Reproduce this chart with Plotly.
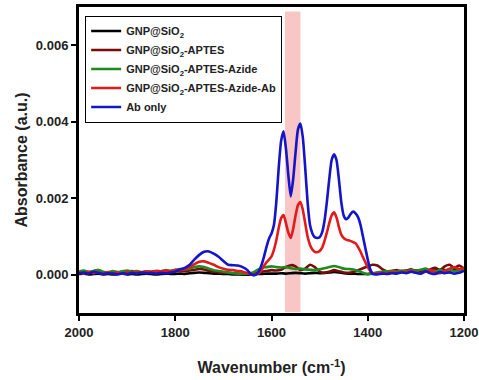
import plotly.graph_objects as go

# ---- data ----
# fine grid (used for Ab-containing spectra)
wn_fine = list(range(2000, 1659, -10)) + list(range(1650, 1389, -5)) + list(range(1380, 1199, -10))
# coarse grid (baseline spectra)
wn_coarse = list(range(2000, 1199, -10))

ab_only = [
    0.00004, 0.00006, 0.00003, 0.00008, 0.00005, 0.00002, 0.00004, 0.00003, 0.00001, 0.00004,
    0.00002, 0.00005, 0.00003, 0.00006, 0.00004, 0.00005, 0.00003, 0.00005, 0.00004, 0.00006,
    0.00008, 0.00014, 0.00018, 0.00026, 0.0004, 0.00052, 0.0006, 0.00061, 0.00055, 0.00047,
    0.00036, 0.00026, 0.00025, 0.00024, 0.0002,
    0.00012, 0.00004, 0.0, -0.00001, 0.00003, 0.00012, 0.00028, 0.0005, 0.00075, 0.00095,
    0.00108, 0.0013, 0.0019, 0.0028, 0.0035, 0.00375, 0.0033, 0.0026, 0.00205, 0.0025,
    0.0032, 0.0038, 0.00395, 0.0036, 0.0028, 0.0019, 0.0013, 0.00108, 0.00098, 0.00096,
    0.00098, 0.0011, 0.0014, 0.0019, 0.0025, 0.0030, 0.00315, 0.0030, 0.0025, 0.0019,
    0.00155, 0.00145, 0.0015, 0.0016, 0.00165, 0.0016, 0.0015, 0.0013, 0.001, 0.0007,
    0.0004, 0.00015, 0.00002,
    0.00001, 0.00003, 0.00002, 0.00004, 0.00003, 0.00006, 0.00004, 0.00008, 0.00005, 0.00003,
    0.00009, 0.00004, 0.00002, 0.00007, 0.00004, 0.00006, 0.00003, 0.00005, 0.0001,
]

aptes_azide_ab = [
    0.00006, 0.00003, 0.00008, 0.00004, 0.00006, 0.00003, 0.00007, 0.00004, 0.00006, 0.00003,
    0.00007, 0.00005, 0.00008, 0.00006, 0.00009, 0.00008, 0.0001, 0.00009, 0.00011, 0.0001,
    0.00012, 0.00012, 0.00015, 0.0002, 0.00028, 0.00034, 0.00035, 0.00031, 0.00026, 0.0002,
    0.00016, 0.00013, 0.00012, 0.0001, 0.00008,
    0.00004, 0.00002, 0.0, 0.0, 0.00002, 0.00006, 0.00014, 0.00024, 0.00033, 0.0004,
    0.00048, 0.00065, 0.0009, 0.00122, 0.00148, 0.00156, 0.00135, 0.0011, 0.00096, 0.0012,
    0.00155, 0.00182, 0.0019, 0.0017, 0.00135, 0.001, 0.00078, 0.00066, 0.0006, 0.00059,
    0.00062, 0.0007, 0.00088, 0.0011, 0.00135, 0.00155, 0.00163, 0.0015, 0.00125, 0.00105,
    0.00096, 0.00092, 0.0009, 0.00088, 0.00085, 0.00082, 0.00072, 0.0006, 0.00046, 0.00033,
    0.0002, 0.0001, 0.00005,
    0.00003, 0.00005, 0.00004, 0.00007, 0.00005, 0.00008, 0.00006, 0.0001, 0.00006, 0.00004,
    0.00008, 0.00012, 0.00006, 0.00004, 0.0001, 0.00016, 0.0002, 0.00015, 0.00018,
]

aptes_azide = [
    0.00008, 0.00011, 0.00007, 0.0001, 0.00012, 0.00008, 0.00006, 0.0001, 0.00007, 0.00009,
    0.00011, 0.00008, 0.0001, 0.00007, 0.00009, 0.00008, 0.0001, 0.00009, 0.00012, 0.0001,
    0.00013, 0.00015, 0.00014, 0.00016, 0.0002, 0.00022, 0.0002, 0.00016, 0.00012, 0.0001,
    0.00008, 0.00006, 0.00004, 0.00003, 0.00002, 0.00003, 0.00005, 0.00012, 0.00018, 0.0002,
    0.00022, 0.0002, 0.00019, 0.0002, 0.00017, 0.00015, 0.00016, 0.00014, 0.00013, 0.00012,
    0.00014, 0.00017, 0.0002, 0.00023, 0.0002, 0.00016, 0.00015, 0.00014, 0.0001, 0.00005,
    0.00001, 0.00003, 0.00006, 0.00008, 0.00009, 0.0001, 0.00008, 0.00011, 0.00009, 0.00012,
    0.0001, 0.00013, 0.00016, 0.00011, 0.00009, 0.00012, 0.0001, 0.00013, 0.0001, 0.00012,
    0.00014,
]

aptes = [
    0.00005, 0.00008, 0.00004, 0.00009, 0.00012, 0.00006, 0.00004, 0.00007, 0.00005, 0.00008,
    0.00006, 0.0001, 0.00007, 0.00005, 0.00008, 0.00006, 0.00009, 0.00007, 0.0001, 0.00008,
    0.0001, 0.0001, 0.00009, 0.00011, 0.00013, 0.00015, 0.00014, 0.0001, 0.00008, 0.00006,
    0.00005, 0.00006, 0.00004, 0.00003, 0.00002, 0.00002, 0.00003, 0.00005, 0.00008, 0.0001,
    0.00012, 0.00011, 0.00013, 0.0002, 0.00025, 0.00022, 0.00012, 0.00016, 0.00026, 0.0002,
    0.00008, 0.00005, 0.00008, 0.00012, 0.00009, 0.00006, 0.00005, 0.00007, 0.00012, 0.00017,
    0.00022, 0.00026, 0.00024, 0.00015, 0.00009, 0.0001, 0.00012, 0.00009, 0.00011, 0.00014,
    0.0001, 0.00012, 0.00009, 0.00014, 0.00018, 0.00012, 0.00022, 0.00026, 0.00018, 0.00024,
    0.00016,
]

gnp_sio2 = [
    0.00002, 0.00003, 0.00001, 0.00002, 0.00003, 0.00001, 0.00002, 0.00001, 0.00002, 0.00003,
    0.00001, 0.00002, 0.00001, 0.00002, 0.00003, 0.00002, 0.00001, 0.00002, 0.00003, 0.00002,
    0.00002, 0.00003, 0.00002, 0.00004, 0.00005, 0.00006, 0.00005, 0.00004, 0.00003, 0.00003,
    0.00002, 0.00002, 0.00001, 0.00001, 0.0, 0.0, 0.00001, 0.00002, 0.00002, 0.00003,
    0.00003, 0.00003, 0.00004, 0.00003, 0.00004, 0.00005, 0.00004, 0.00003, 0.00004, 0.00005,
    0.00004, 0.00005, 0.00006, 0.00007, 0.00006, 0.00004, 0.00003, 0.00003, 0.00002, 0.00002,
    0.00002, 0.00004, 0.00005, 0.00006, 0.00008, 0.00007, 0.00009, 0.00008, 0.0001, 0.00009,
    0.00011, 0.0001, 0.00012, 0.0001, 0.00011, 0.00013, 0.00012, 0.00011, 0.00014, 0.00012,
    0.00013,
]

series_names = [
    "GNP@SiO<sub>2</sub>",
    "GNP@SiO<sub>2</sub>-APTES",
    "GNP@SiO<sub>2</sub>-APTES-Azide",
    "GNP@SiO<sub>2</sub>-APTES-Azide-Ab",
    "Ab only",
]
band_range = [1540, 1572]
x_ticks = [2000, 1800, 1600, 1400, 1200]
y_ticks = [0.0, 0.002, 0.004, 0.006]

# ---- figure ----
FONT = "Liberation Sans, Arial, sans-serif"
colors = ["#000000", "#7a0b0b", "#1f8a1f", "#e31a1c", "#1414c8"]
xs = [wn_coarse, wn_coarse, wn_coarse, wn_fine, wn_fine]
ys = [gnp_sio2, aptes, aptes_azide, aptes_azide_ab, ab_only]

fig = go.Figure()
for name, x, y, c in zip(series_names, xs, ys, colors):
    fig.add_trace(go.Scatter(
        x=x, y=y, name=name, mode="lines",
        line=dict(color=c, width=2.6, shape="spline", smoothing=0.6),
    ))

fig.add_shape(type="rect", x0=band_range[0], x1=band_range[1],
              y0=-0.00098, y1=0.00688, xref="x", yref="y",
              fillcolor="#f9c6c6", line=dict(width=0), layer="below")

fig.update_layout(
    width=479, height=380,
    margin=dict(l=79, r=15, t=7, b=67, autoexpand=False),
    paper_bgcolor="white", plot_bgcolor="white",
    font=dict(family=FONT, size=12, color="black", weight="bold"),
    showlegend=True,
    legend=dict(
        x=0.016, y=0.972, xanchor="left", yanchor="top",
        bgcolor="white", bordercolor="black", borderwidth=1,
        font=dict(family=FONT, size=11, color="#222222", weight="bold"),
        tracegroupgap=0, itemwidth=30,
    ),
)
fig.update_xaxes(
    range=[2000, 1200], tickvals=x_ticks, ticktext=[str(v) for v in x_ticks],
    showgrid=False, zeroline=False, automargin=False,
    showline=True, linecolor="black", linewidth=3, mirror=True,
    ticks="outside", ticklen=5, tickwidth=2, tickcolor="black",
    tickfont=dict(family=FONT, size=13, color="#222222", weight="bold"),
    title=dict(text="Wavenumber (cm<sup>-1</sup>)", standoff=24,
               font=dict(family=FONT, size=16, color="#222222", weight="bold")),
)
fig.update_yaxes(
    range=[-0.001, 0.007], tickvals=y_ticks, ticktext=[f"{v:.3f}" for v in y_ticks],
    showgrid=False, zeroline=False, automargin=False,
    showline=True, linecolor="black", linewidth=3, mirror=True,
    ticks="outside", ticklen=5, tickwidth=2, tickcolor="black",
    tickfont=dict(family=FONT, size=13, color="#222222", weight="bold"),
    title=dict(text="Absorbance (a.u.)", standoff=5,
               font=dict(family=FONT, size=16, color="#222222", weight="bold")),
)

fig.write_html("out.html", config={"displayModeBar": False},
               post_script="document.body.style.margin='0px';")
